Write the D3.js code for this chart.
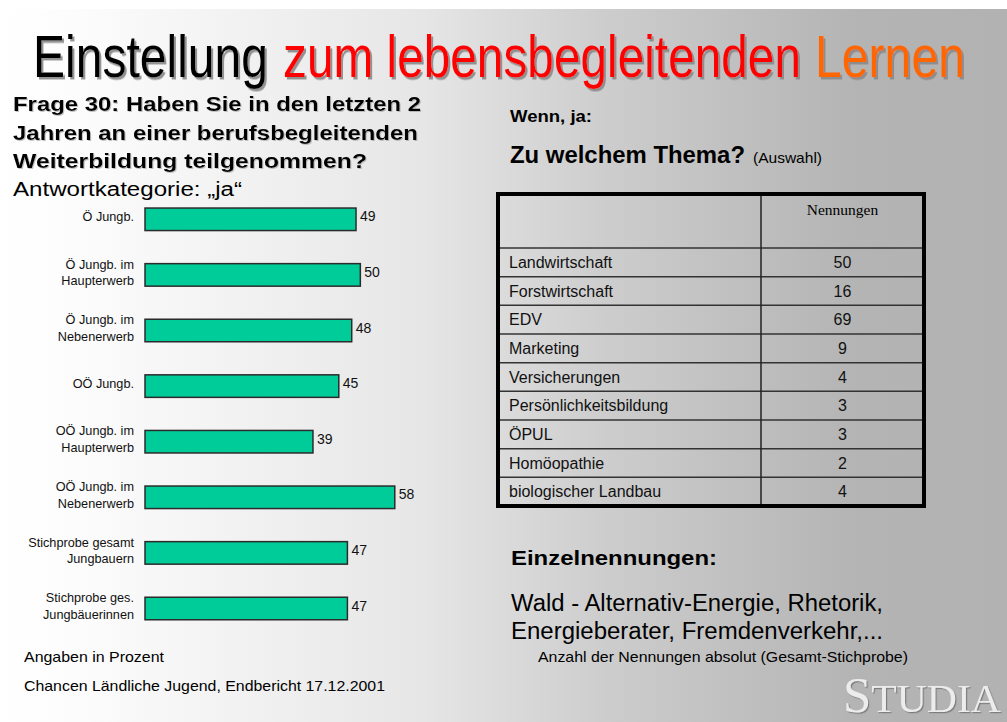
<!DOCTYPE html>
<html>
<head>
<meta charset="utf-8">
<script src="https://cdn.jsdelivr.net/npm/d3@7"></script>
<style>
  body { margin: 0; background: #fff; }
  svg { display: block; font-family: Arial, "Liberation Sans", Helvetica, sans-serif; }
</style>
</head>
<body>
<svg id="chart" width="1007" height="722"></svg>
<script>
// Balken: Anteil "ja" in Prozent
const categories = [
  "Ö Jungb.",
  "Ö Jungb. im\nHaupterwerb",
  "Ö Jungb. im\nNebenerwerb",
  "OÖ Jungb.",
  "OÖ Jungb. im\nHaupterwerb",
  "OÖ Jungb. im\nNebenerwerb",
  "Stichprobe gesamt\nJungbauern",
  "Stichprobe ges.\nJungbäuerinnen"
];
const values = [49, 50, 48, 45, 39, 58, 47, 47];

// Tabelle: Themen und Nennungen
const topics = [
  "Landwirtschaft", "Forstwirtschaft", "EDV", "Marketing", "Versicherungen",
  "Persönlichkeitsbildung", "ÖPUL", "Homöopathie", "biologischer Landbau"
];
const mentions = [50, 16, 69, 9, 4, 3, 3, 2, 4];

const svg = d3.select("#chart");
const W = 1007, H = 722;

// Hintergrund mit Verlauf
const defs = svg.append("defs");
const grad = defs.append("linearGradient").attr("id", "bg").attr("x1", 0).attr("x2", 1).attr("y1", 0).attr("y2", 0);
[[0, "#ffffff"], [0.08, "#fcfcfc"], [0.42, "#e6e6e6"], [0.6, "#cdcdcd"], [0.85, "#b4b4b4"], [1, "#b2b2b2"]]
  .forEach(s => grad.append("stop").attr("offset", s[0]).attr("stop-color", s[1]));
svg.append("rect").attr("x", 0).attr("y", 9).attr("width", W).attr("height", H - 9).attr("fill", "url(#bg)");

// Schatten-Filter
function shadowFilter(id, d, color, op) {
  defs.append("filter").attr("id", id).attr("x", "-5%").attr("y", "-20%").attr("width", "110%").attr("height", "140%")
    .append("feDropShadow").attr("dx", d).attr("dy", d).attr("stdDeviation", 0.4)
    .attr("flood-color", color).attr("flood-opacity", op);
}
shadowFilter("shTitle", 2, "#888", 0.9);
shadowFilter("shText", 1, "#999", 0.6);
shadowFilter("shLogo", 1.2, "#777", 0.9);

// Text mit fester Breite (wie im Original)
function txt(x, y, size, str, len, bold) {
  const t = svg.append("text").attr("x", x).attr("y", y).attr("font-size", size).attr("fill", "#000").text(str);
  if (bold) t.attr("font-weight", "bold");
  if (len) t.attr("textLength", len).attr("lengthAdjust", "spacingAndGlyphs");
  return t;
}

// Titel (drei Teile, drei Farben, vertikal gestreckt)
const titleParts = [["Einstellung", 33, 235, "#000"], ["zum lebensbegleitenden", 283, 518, "#ff0000"], ["Lernen", 815, 150, "#ff6600"]];
titleParts.forEach(p => {
  svg.append("g").attr("transform", `translate(${p[1]},77) scale(1,1.235)`)
    .append("text").attr("x", 0).attr("y", 0).attr("font-size", 47.5)
    .attr("textLength", p[2]).attr("lengthAdjust", "spacingAndGlyphs")
    .attr("fill", p[3]).attr("filter", "url(#shTitle)").text(p[0]);
});

// Frage links
txt(13, 111, 20, "Frage 30: Haben Sie in den letzten 2", 408, true).attr("filter", "url(#shText)");
txt(13, 139.5, 20, "Jahren an einer berufsbegleitenden", 405, true).attr("filter", "url(#shText)");
txt(13, 168, 20, "Weiterbildung teilgenommen?", 354, true).attr("filter", "url(#shText)");
txt(13, 196, 20, "Antwortkategorie: „ja“", 229);

// Balkendiagramm
const x = d3.scaleLinear().domain([0, 60]).range([145, 403.4]);
const y = d3.scaleBand().domain(categories).range([191.5, 636.3]).paddingInner(0.595).paddingOuter(0.2975);

svg.append("g").selectAll("rect").data(values).join("rect")
  .attr("x", x(0))
  .attr("y", (d, i) => y(categories[i]))
  .attr("width", d => x(d) - x(0))
  .attr("height", y.bandwidth())
  .attr("fill", "#00cc99")
  .attr("stroke", "#2b2b2b")
  .attr("stroke-width", 1.5);

svg.append("g").selectAll("text").data(values).join("text")
  .attr("x", d => x(d) + 4)
  .attr("y", (d, i) => y(categories[i]) + y.bandwidth() / 2 + 2)
  .attr("font-size", 14)
  .attr("fill", "#111")
  .text(d => d);

const labels = svg.append("g").attr("font-size", 12.7).attr("fill", "#111").attr("text-anchor", "end");
categories.forEach(c => {
  const lines = c.split("\n");
  const cy = y(c) + y.bandwidth() / 2;
  lines.forEach((l, j) => {
    labels.append("text")
      .attr("x", 134)
      .attr("y", cy + (j - (lines.length - 1) / 2) * 16.5 + 2)
      .text(l);
  });
});

txt(24, 662, 15, "Angaben in Prozent", 140);
txt(24, 691, 15, "Chancen Ländliche Jugend, Endbericht 17.12.2001", 361);

// Rechte Seite
txt(510, 122, 17, "Wenn, ja:", 82, true);
txt(510, 163, 23, "Zu welchem Thema?", 235, true);
txt(753, 163, 15, "(Auswahl)", 69);

// Tabelle
const tx0 = 498, tx1 = 761, tx2 = 924;
const headTop = 194, headBottom = 248;
const row = d3.scaleBand().domain(topics).range([headBottom, 506]);
const table = svg.append("g");

table.append("text").attr("x", (tx1 + tx2) / 2).attr("y", 215)
  .attr("text-anchor", "middle").attr("font-family", "'Times New Roman', 'Liberation Serif', serif")
  .attr("font-size", 15.5).text("Nennungen");

table.selectAll("line.row").data(topics).join("line")
  .attr("class", "row")
  .attr("x1", tx0).attr("x2", tx2)
  .attr("y1", d => row(d)).attr("y2", d => row(d))
  .attr("stroke", "#333").attr("stroke-width", 1.5);

table.append("line").attr("x1", tx1).attr("x2", tx1).attr("y1", headTop).attr("y2", 506)
  .attr("stroke", "#222").attr("stroke-width", 1.5);

table.selectAll("text.topic").data(topics).join("text")
  .attr("class", "topic")
  .attr("x", 509)
  .attr("y", d => row(d) + row.bandwidth() / 2 + 5.5)
  .attr("font-size", 16).attr("fill", "#111")
  .text(d => d);

table.selectAll("text.num").data(mentions).join("text")
  .attr("class", "num")
  .attr("x", (tx1 + tx2) / 2)
  .attr("y", (d, i) => row(topics[i]) + row.bandwidth() / 2 + 5.5)
  .attr("text-anchor", "middle")
  .attr("font-size", 16).attr("fill", "#111")
  .text(d => d);

table.append("rect").attr("x", tx0).attr("y", headTop).attr("width", tx2 - tx0).attr("height", 506 - headTop)
  .attr("fill", "none").attr("stroke", "#000").attr("stroke-width", 4);

// Einzelnennungen
txt(511, 565, 21, "Einzelnennungen:", 206, true);
txt(511, 611, 23, "Wald - Alternativ-Energie, Rhetorik,", 372);
txt(511, 639, 23, "Energieberater, Fremdenverkehr,...", 372);
txt(538, 662, 15, "Anzahl der Nennungen absolut (Gesamt-Stichprobe)", 370);

// Logo
const logo = svg.append("text").attr("x", 843).attr("y", 712)
  .attr("font-family", "'Times New Roman', 'Liberation Serif', serif")
  .attr("fill", "#ececec").attr("filter", "url(#shLogo)")
  .attr("textLength", 158).attr("lengthAdjust", "spacingAndGlyphs");
logo.append("tspan").attr("font-size", 50).text("S");
logo.append("tspan").attr("font-size", 41).text("TUDIA");
</script>
</body>
</html>
